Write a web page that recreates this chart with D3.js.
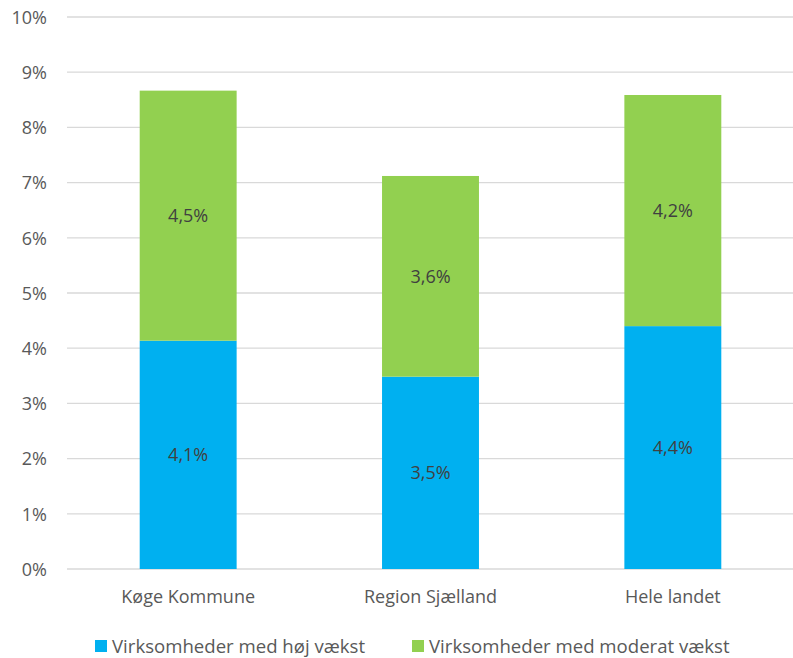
<!DOCTYPE html>
<html><head><meta charset="utf-8">
<script src="https://cdn.jsdelivr.net/npm/d3@7"></script>
<style>body{margin:0;background:#fff}</style>
</head><body>
<svg id="c" width="793" height="658"></svg>
<script>
const categories = ["Køge Kommune", "Region Sjælland", "Hele landet"];
const seriesNames = ["Virksomheder med høj vækst", "Virksomheder med moderat vækst"];
const highGrowth = [4.136, 3.484, 4.40];
const moderateGrowth = [4.53, 3.636, 4.187];
const highLabels = ["4,1%", "3,5%", "4,4%"];
const moderateLabels = ["4,5%", "3,6%", "4,2%"];
const yTicks = [0,1,2,3,4,5,6,7,8,9,10];
const colors = ["#00B0F0", "#92D050"];

const svg = d3.select("#c");
const font = "'Open Sans', sans-serif";
const fs = 18;
const L = 67, R = 794, T = 17, B = 569;
const x = d3.scaleBand().domain(categories).range([L, R]).paddingInner(0.6).paddingOuter(0.3);
const y = d3.scaleLinear().domain([0, 10]).range([B, T]);

const rows = categories.map((c, i) => ({cat: c, high: highGrowth[i], moderate: moderateGrowth[i]}));
const stack = d3.stack().keys(["high", "moderate"])(rows);

svg.append("g").selectAll("line").data(yTicks).join("line")
  .attr("x1", L).attr("x2", R)
  .attr("y1", d => y(d)).attr("y2", d => y(d))
  .attr("stroke", "#d9d9d9").attr("stroke-width", 1.3);

const yAxis = d3.axisLeft(y).tickValues(yTicks).tickFormat(d => d + "%").tickSize(0).tickPadding(0);
const ya = svg.append("g").attr("transform", `translate(${L - 20},0)`).call(yAxis);
ya.select(".domain").remove();
ya.selectAll("text").attr("font-family", font).attr("font-size", fs).attr("fill", "#595959").attr("dy", "0.35em");

const labels = [highLabels, moderateLabels];
stack.forEach((s, si) => {
  const g = svg.append("g");
  g.selectAll("rect").data(s).join("rect")
    .attr("x", d => x(d.data.cat)).attr("width", x.bandwidth())
    .attr("y", d => y(d[1])).attr("height", d => y(d[0]) - y(d[1]))
    .attr("fill", colors[si]);
  g.selectAll("text").data(s).join("text")
    .attr("x", d => x(d.data.cat) + x.bandwidth() / 2)
    .attr("y", d => (y(d[0]) + y(d[1])) / 2)
    .attr("dy", "0.35em").attr("text-anchor", "middle")
    .attr("font-family", font).attr("font-size", fs).attr("fill", "#404040")
    .text((d, i) => labels[si][i]);
});

const xAxis = d3.axisBottom(x).tickSize(0).tickPadding(0);
const xa = svg.append("g").attr("transform", `translate(0,${B + 28})`).call(xAxis);
xa.select(".domain").remove();
xa.selectAll("text").attr("font-family", font).attr("font-size", fs).attr("fill", "#595959").attr("dy", "0.35em");

const legendX = [95, 412];
const lg = svg.append("g");
seriesNames.forEach((n, i) => {
  lg.append("rect").attr("x", legendX[i]).attr("y", 640).attr("width", 12).attr("height", 12).attr("fill", colors[i]);
  lg.append("text").attr("x", legendX[i] + 17).attr("y", 646).attr("dy", "0.35em")
    .attr("font-family", font).attr("font-size", 18.6).attr("fill", "#595959").text(n);
});
</script>
</body></html>
